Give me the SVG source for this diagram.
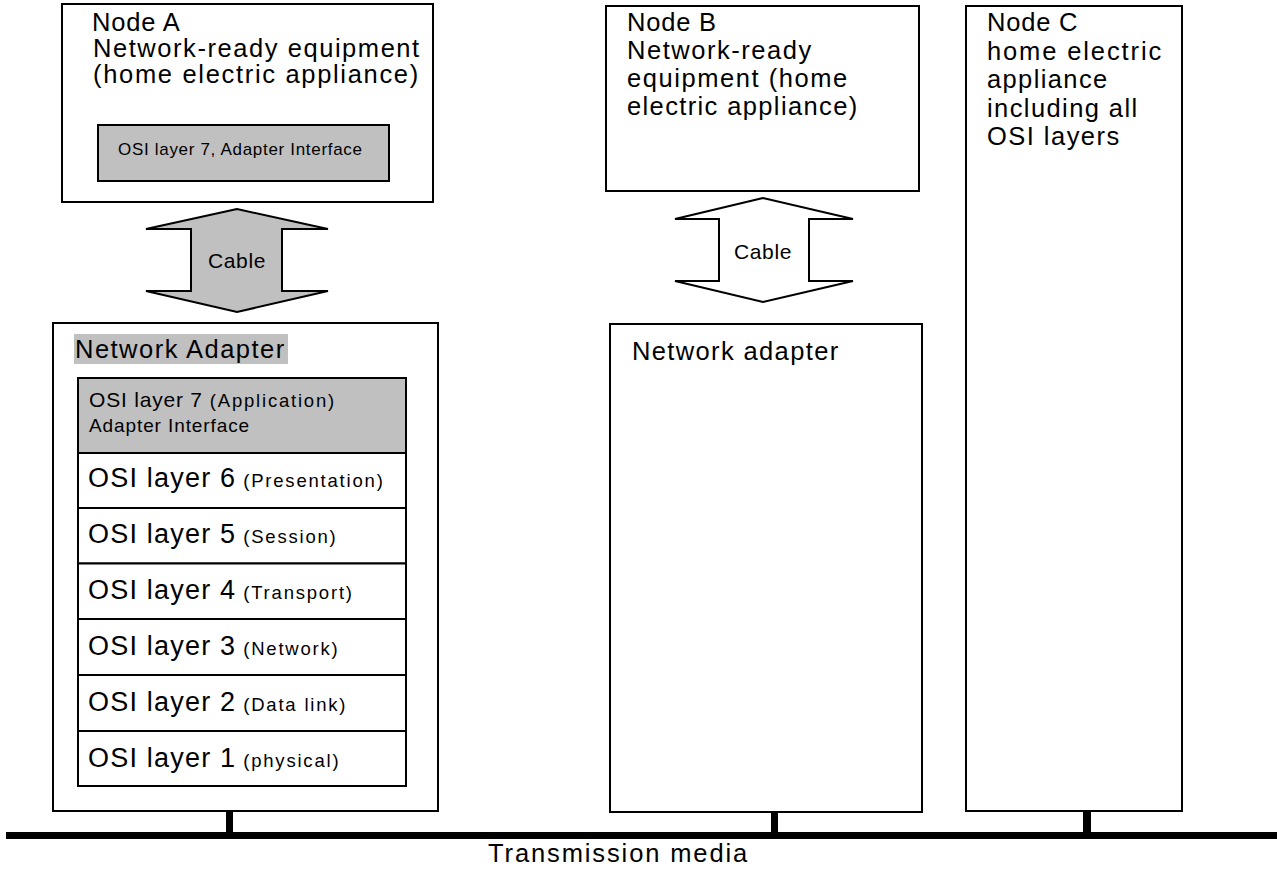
<svg xmlns="http://www.w3.org/2000/svg" width="1277" height="877" viewBox="0 0 1277 877">
<style>
  .box { fill: #ffffff; stroke: #000000; stroke-width: 2; }
  .gray { fill: #c0c0c0; stroke: #000000; stroke-width: 2; }
  .t { font-family: "Liberation Sans", Arial, sans-serif; fill: #000000; }
  .big { font-size: 25.5px; letter-spacing: 0.8px; }
  .lay { font-size: 27px; letter-spacing: 1.2px; }
  .sm { font-size: 18.5px; letter-spacing: 1.8px; }
  .cab { font-size: 21px; letter-spacing: 0.6px; }
  .arrow { stroke: #000000; stroke-width: 2; stroke-linejoin: miter; }
</style>
<rect width="1277" height="877" fill="#ffffff"/>

<g id="nodeA">
  <rect class="box" x="62" y="4" width="371" height="198"/>
  <text class="t big" x="92" y="31">Node A</text>
  <text class="t big" x="93" y="57" textLength="327" lengthAdjust="spacing">Network-ready equipment</text>
  <text class="t big" x="93" y="83" textLength="326" lengthAdjust="spacing">(home electric appliance)</text>
  <rect class="gray" x="98" y="125" width="291" height="56"/>
  <text class="t" x="118" y="155" font-size="17" textLength="244" lengthAdjust="spacing">OSI layer 7, Adapter Interface</text>
</g>

<g id="adapterA">
  <rect class="box" x="53" y="323" width="385" height="488"/>
  <rect x="74" y="334" width="214" height="30" fill="#c0c0c0"/>
  <text class="t big" x="75" y="358" textLength="210" lengthAdjust="spacing">Network Adapter</text>
</g>

<g id="layer7">
  <rect class="gray" x="78" y="378" width="328" height="75"/>
  <text class="t" x="89" y="407"><tspan font-size="21" letter-spacing="0.8">OSI layer 7</tspan><tspan font-size="18.5" letter-spacing="1.8"> (Application)</tspan></text>
  <text class="t" x="89" y="432" font-size="19" letter-spacing="0.9">Adapter Interface</text>
</g>
<g id="layer6">
  <rect class="box" x="78" y="453" width="328" height="55"/>
  <text class="t" x="88" y="487"><tspan class="lay">OSI layer 6</tspan><tspan class="sm"> (Presentation)</tspan></text>
</g>
<g id="layer5">
  <rect class="box" x="78" y="508" width="328" height="55.5"/>
  <text class="t" x="88" y="543"><tspan class="lay">OSI layer 5</tspan><tspan class="sm"> (Session)</tspan></text>
</g>
<g id="layer4">
  <rect class="box" x="78" y="563.5" width="328" height="55.5"/>
  <text class="t" x="88" y="599"><tspan class="lay">OSI layer 4</tspan><tspan class="sm"> (Transport)</tspan></text>
</g>
<g id="layer3">
  <rect class="box" x="78" y="619" width="328" height="56"/>
  <text class="t" x="88" y="655"><tspan class="lay">OSI layer 3</tspan><tspan class="sm"> (Network)</tspan></text>
</g>
<g id="layer2">
  <rect class="box" x="78" y="675" width="328" height="56"/>
  <text class="t" x="88" y="711"><tspan class="lay">OSI layer 2</tspan><tspan class="sm"> (Data link)</tspan></text>
</g>
<g id="layer1">
  <rect class="box" x="78" y="731" width="328" height="55"/>
  <text class="t" x="88" y="767"><tspan class="lay">OSI layer 1</tspan><tspan class="sm">  (physical)</tspan></text>
</g>

<g id="nodeB">
  <rect class="box" x="606" y="6" width="313" height="185"/>
  <text class="t big" x="627" y="31">Node B</text>
  <text class="t big" x="627" y="59" textLength="185" lengthAdjust="spacing">Network-ready</text>
  <text class="t big" x="627" y="87" textLength="221" lengthAdjust="spacing">equipment (home</text>
  <text class="t big" x="627" y="115" textLength="231" lengthAdjust="spacing">electric appliance)</text>
</g>

<g id="adapterB">
  <rect class="box" x="610" y="324" width="312" height="488"/>
  <text class="t big" x="632" y="360" textLength="207" lengthAdjust="spacing">Network adapter</text>
</g>

<g id="nodeC">
  <rect class="box" x="966" y="6" width="216" height="805"/>
  <text class="t big" x="987" y="31">Node C</text>
  <text class="t big" x="987" y="59.5" textLength="175" lengthAdjust="spacing">home electric</text>
  <text class="t big" x="987" y="88" textLength="121" lengthAdjust="spacing">appliance</text>
  <text class="t big" x="987" y="116.5" textLength="151" lengthAdjust="spacing">including all</text>
  <text class="t big" x="987" y="145" textLength="133" lengthAdjust="spacing">OSI layers</text>
</g>

<g id="connectors">
  <polygon class="arrow" fill="#c0c0c0" points="237,209 146,229 191,229 191,291 146,291 237,312 328,291 282,291 282,229 328,229"/>
  <text class="t cab" x="237" y="268" text-anchor="middle">Cable</text>
  <polygon class="arrow" fill="#ffffff" points="763,198 675,219 719,219 719,281 675,281 763,302 853,281 809,281 809,219 853,219"/>
  <text class="t cab" x="763" y="259" text-anchor="middle">Cable</text>
  <rect x="226" y="811" width="7" height="22" fill="#000000"/>
  <rect x="771" y="812" width="7" height="21" fill="#000000"/>
  <rect x="1083" y="811" width="8" height="22" fill="#000000"/>
</g>

<g id="transmission">
  <rect x="6" y="832" width="1271" height="7" fill="#000000"/>
  <text class="t big" x="488" y="862" textLength="260" lengthAdjust="spacing">Transmission media</text>
</g>
</svg>
